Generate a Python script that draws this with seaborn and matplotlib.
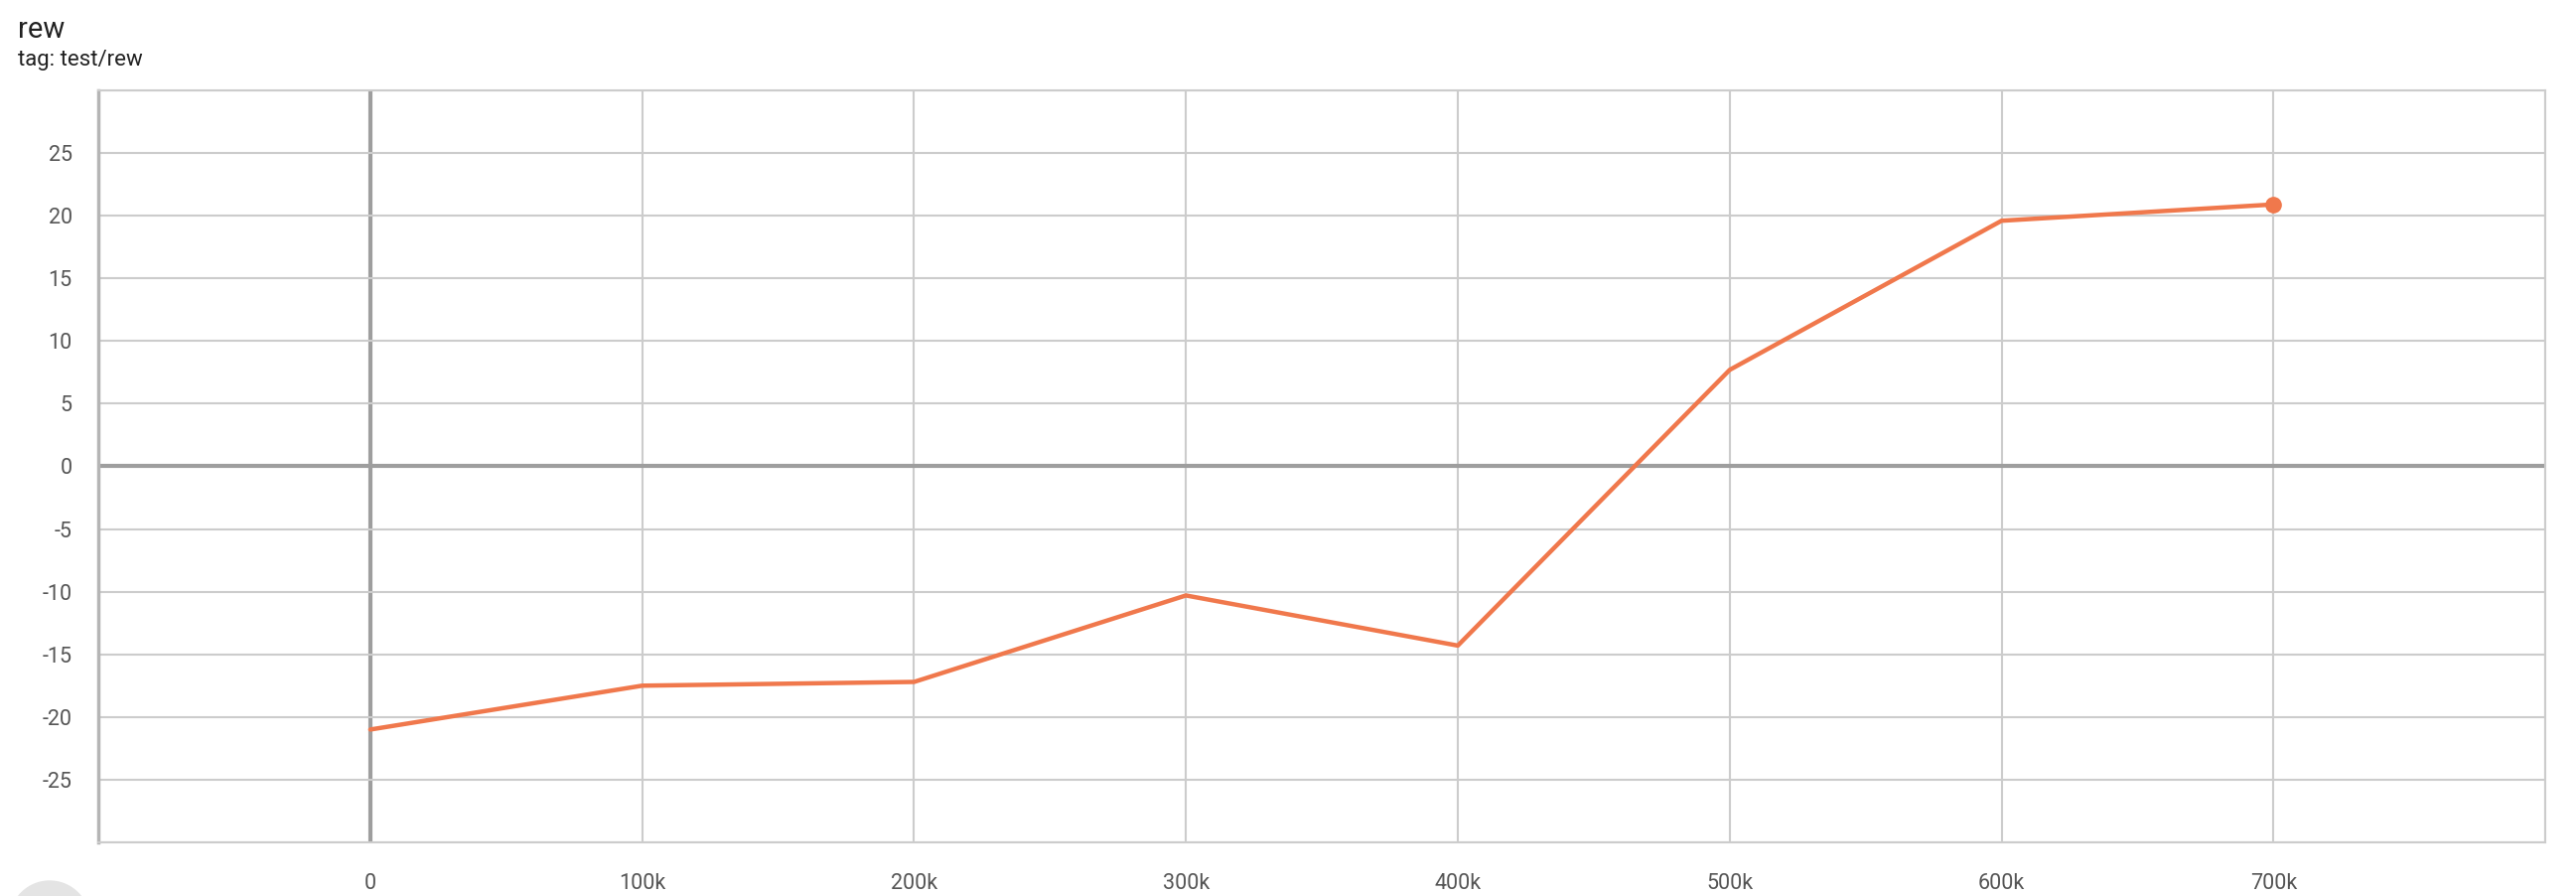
import pandas as pd
import matplotlib.pyplot as plt
import matplotlib.patches as mpatches
from matplotlib.ticker import FuncFormatter
import seaborn as sns

# values
steps = [0, 100000, 200000, 300000, 400000, 500000, 600000, 700000]
rew = [-21.0, -17.5, -17.2, -10.3, -14.3, 7.7, 19.6, 20.9]
x_ticks = [-100000, 0, 100000, 200000, 300000, 400000, 500000, 600000, 700000, 800000]
y_ticks = [-30, -25, -20, -15, -10, -5, 0, 5, 10, 15, 20, 25, 30]

df = pd.DataFrame({"step": steps, "rew": rew})

sns.set_style("white")
plt.rcParams['font.family'] = ['Roboto', 'DejaVu Sans']

line_color = "#f0784c"
grid_color = "#cccccc"
axis_color = "#9e9e9e"

fig = plt.figure(figsize=(25.94, 9.02), dpi=100)
ax = fig.add_axes([0.0382, 0.0599, 0.9499, 0.8392])

ax.set_xlim(-100000, 800000)
ax.set_ylim(-30, 30)
ax.set_xticks(x_ticks)
ax.set_yticks(y_ticks)

# grid lines
for xv in x_ticks:
    if xv == 0:
        ax.axvline(xv, color=axis_color, lw=3, zorder=1)
    elif xv > -100000:
        ax.axvline(xv, color=grid_color, lw=1.5, zorder=1)
for yv in y_ticks:
    if yv == 0:
        ax.axhline(yv, color=axis_color, lw=3, zorder=1)
    else:
        ax.axhline(yv, color=grid_color, lw=1.5, zorder=1)

sns.lineplot(data=df, x="step", y="rew", ax=ax, color=line_color, linewidth=3.2, zorder=3)
ax.plot(steps[-1], rew[-1], "o", color=line_color, ms=11, zorder=4)

for side in ["top", "right", "bottom"]:
    ax.spines[side].set_color(grid_color)
    ax.spines[side].set_linewidth(1.5)
ax.spines["left"].set_color("#b5b5b5")
ax.spines["left"].set_linewidth(2.5)

def fmt_x(v, pos):
    if v < 0 or v > 700000:
        return ""
    if v == 0:
        return "0"
    return f"{int(v / 1000)}k"

def fmt_y(v, pos):
    if abs(v) >= 30:
        return ""
    return f"{int(v)}"

ax.xaxis.set_major_formatter(FuncFormatter(fmt_x))
ax.yaxis.set_major_formatter(FuncFormatter(fmt_y))
ax.tick_params(axis="both", length=10, width=1.5, color=grid_color,
               labelsize=15.5, labelcolor="#555555", pad=9)
ax.tick_params(axis="x", pad=12)
ax.set_xlabel("")
ax.set_ylabel("")

fig.text(0.0069, 0.958, "rew", fontsize=21, color="#212121", va="baseline")
fig.text(0.0069, 0.927, "tag: test/rew", fontsize=16, color="#212121", va="baseline")

# partial grey button in the lower-left corner
fig.patches.append(mpatches.Circle((50, -25), 40, transform=None,
                                   color="#e4e4e4", zorder=0))

fig.savefig("out.png", dpi=100)
